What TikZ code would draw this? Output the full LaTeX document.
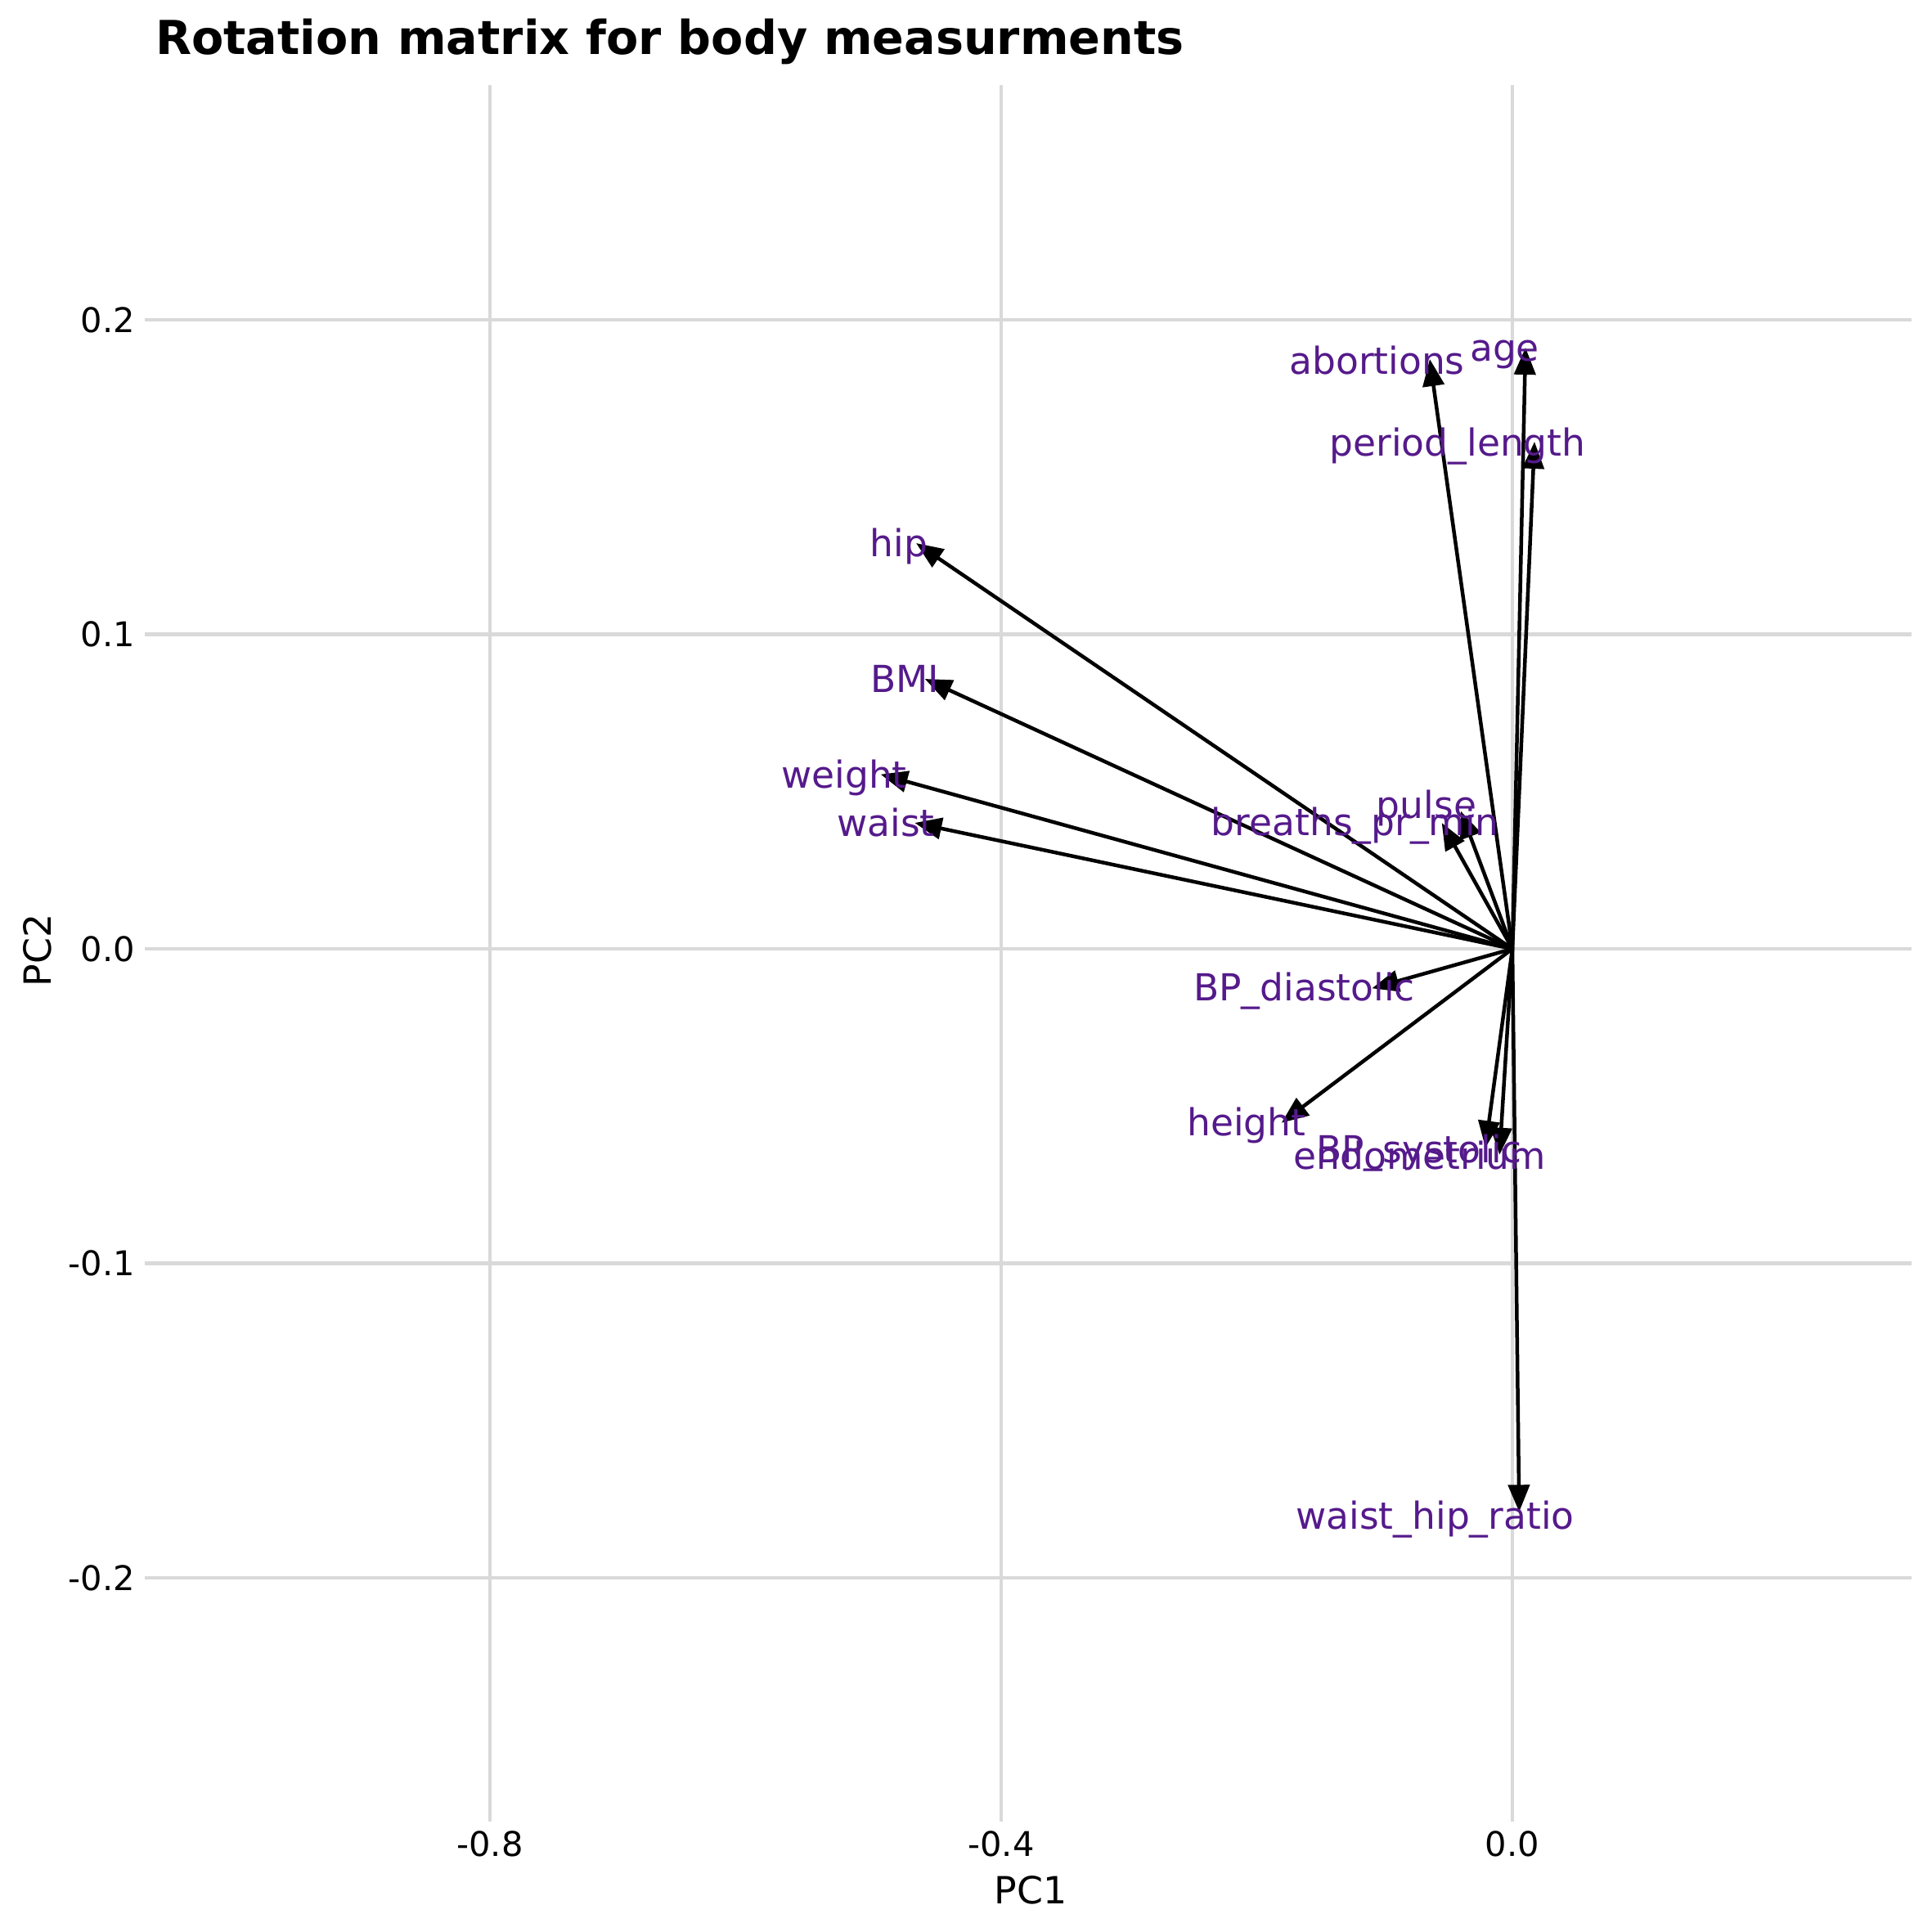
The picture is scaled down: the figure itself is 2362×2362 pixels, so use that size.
\documentclass[tikz,border=0pt]{standalone}
\usepackage{fontspec}
\setmainfont{DejaVu Sans}
\usetikzlibrary{arrows.meta}
\definecolor{labpurple}{RGB}{85,26,139}
\definecolor{gridgray}{RGB}{217,217,217}
\begin{document}
\begin{tikzpicture}[x=1pt,y=-1pt,
  gridline/.style={draw=gridgray,line width=4.2pt},
  loading/.style={draw=black,line width=4.5pt,-{Triangle[length=33pt,width=26pt]}},
  varlab/.style={text=labpurple,anchor=base,inner sep=0pt,font=\fontsize{45.5}{50}\selectfont},
  ytick/.style={anchor=east,inner sep=0pt,font=\fontsize{41.6}{46}\selectfont},
  xtick/.style={anchor=base,inner sep=0pt,font=\fontsize{41.6}{46}\selectfont},
  axtitle/.style={anchor=base,inner sep=0pt,font=\fontsize{45.8}{50}\selectfont},
  plottitle/.style={anchor=base west,inner sep=0pt,font=\fontsize{57.2}{62}\selectfont\bfseries}]
\useasboundingbox[fill=white] (0,0) rectangle (2362,2362);
% grid
\foreach \gx in {599,1224,1849} \draw[gridline] (\gx,104) -- (\gx,2227);
\foreach \gy in {391,775.5,1160,1544.5,1929} \draw[gridline] (177,\gy) -- (2337,\gy);
% tick labels
\node[ytick] (y1) at (165,391) {0.2};
\node[ytick] (y2) at (165,775.5) {0.1};
\node[ytick] (y3) at (165,1160) {0.0};
\node[ytick] (y4) at (165,1544.5) {-0.1};
\node[ytick] (y5) at (165,1929) {-0.2};
\node[xtick] (x1) at (599,2269) {-0.8};
\node[xtick] (x2) at (1224,2269) {-0.4};
\node[xtick] (x3) at (1849,2269) {0.0};
% axis titles and title
\node[axtitle] (pc1) at (1260,2327) {PC1};
\node[axtitle,rotate=90] (pc2) at (62,1162) {PC2};
\node[plottitle] (title) at (190,66.7) {Rotation matrix for body measurments};
% origin and tips
\coordinate (o) at (1849,1160);
\coordinate (tAbortions) at (1748,439);
\coordinate (tAge) at (1865,425);
\coordinate (tPeriod) at (1876,540);
\coordinate (tHip) at (1120,664);
\coordinate (tBMI) at (1130.7,830);
\coordinate (tWeight) at (1076.7,946.7);
\coordinate (tWaist) at (1118.3,1006);
\coordinate (tPulse) at (1786,991.7);
\coordinate (tBreaths) at (1762.7,1006);
\coordinate (tDiast) at (1677.3,1208.3);
\coordinate (tHeight) at (1566.7,1372.7);
\coordinate (tSyst) at (1816,1403.3);
\coordinate (tEndo) at (1833.3,1411.7);
\coordinate (tWHR) at (1857.3,1848.3);
\foreach \t in {tAbortions,tAge,tPeriod,tHip,tBMI,tWeight,tWaist,tPulse,tBreaths,tDiast,tHeight,tSyst,tEndo,tWHR}
  \draw[loading] (o) -- (\t);
% variable labels
\node[varlab] (lAbortions) at (1683.5,457) {abortions};
\node[varlab] (lAge) at (1839.5,441.7) {age};
\node[varlab] (lPeriod) at (1782,557.7) {period\_length};
\node[varlab] (lHip) at (1099,680.7) {hip};
\node[varlab] (lBMI) at (1106,846) {BMI};
\node[varlab] (lWeight) at (1032,963.3) {weight};
\node[varlab] (lWaist) at (1083,1022.7) {waist};
\node[varlab] (lPulse) at (1744,1000) {pulse};
\node[varlab] (lBreaths) at (1656.7,1021.7) {breaths\_pr\_min};
\node[varlab] (lDiast) at (1594.5,1223.3) {BP\_diastolic};
\node[varlab] (lHeight) at (1524,1388.3) {height};
\node[varlab] (lSyst) at (1735,1421.7) {BP\_systolic};
\node[varlab] (lEndo) at (1736,1429.3) {endometrium};
\node[varlab] (lWHR) at (1754.5,1869.3) {waist\_hip\_ratio};
\end{tikzpicture}
\end{document}
